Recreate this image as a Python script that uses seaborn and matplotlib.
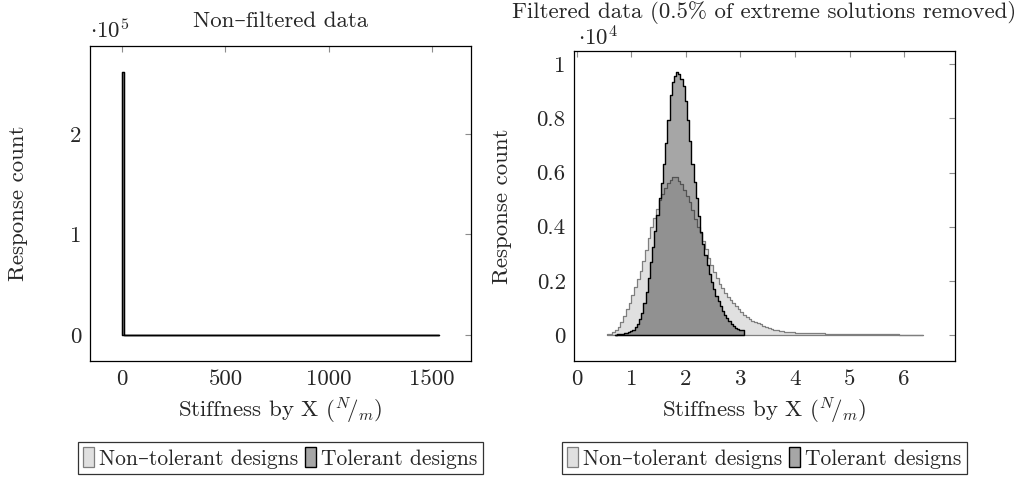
import numpy as np
import pandas as pd
import matplotlib
matplotlib.use("Agg")
import matplotlib.pyplot as plt
import seaborn as sns
from matplotlib.ticker import FuncFormatter, FixedLocator
from matplotlib.patches import Patch

# ---------------- data ----------------
series_names = ["Non–tolerant designs", "Tolerant designs"]

# Non-filtered data (left panel): essentially all responses in the first bin
raw_bin_edges = [0.5, 8.0, 1535.0]
raw_nontol_counts = [261400, 0]
raw_tol_counts = [261400, 0]

# Filtered data (right panel)
filt_nontol_start = 0.55
filt_nontol_width = 0.05
filt_nontol_counts = [
    20, 50, 100, 170, 280, 480, 700, 950, 1200, 1480,
    1760, 2060, 2380, 2740, 3150, 3600, 3980, 4340, 4670, 4970,
    5220, 5430, 5630, 5730, 5830, 5850, 5700, 5560, 5370, 5130,
    4900, 4630, 4300, 4000, 3750, 3480, 3170, 2860, 2600, 2330,
    2100, 1900, 1720, 1540, 1420, 1300, 1170, 1060, 960, 860,
    740, 660, 590, 530, 480, 430, 390, 340, 300, 260,
    220, 190, 170, 150, 130, 120, 110, 100, 95, 90,
    85, 80, 76, 72, 68, 65, 62, 60, 58, 56,
    54, 52, 50, 48, 46, 44, 42, 41, 40, 38,
    37, 36, 34, 33, 32, 30, 29, 28, 27, 26,
    25, 24, 23, 22, 21, 20, 19, 18, 17, 16,
    15, 14, 13, 12, 11, 10,
]
filt_tol_start = 0.70
filt_tol_width = 0.04
filt_tol_counts = [
    10, 20, 30, 45, 60, 80, 110, 140, 190, 280,
    420, 600, 830, 1180, 1600, 2100, 2700, 3250, 3850, 4450,
    5050, 5600, 6300, 7100, 7950, 8850, 9350, 9550, 9700, 9650,
    9450, 9200, 8650, 7950, 7150, 6300, 5650, 5050, 4400, 3800,
    3350, 2950, 2600, 2250, 1950, 1700, 1450, 1250, 1060, 900,
    750, 620, 500, 400, 330, 270, 230, 200, 180,
]

left_xticks = [0, 500, 1000, 1500]
left_yticks = [0, 100000, 200000]
right_xticks = [0, 1, 2, 3, 4, 5, 6]
right_yticks = [0, 2000, 4000, 6000, 8000, 10000]

# ---------------- style ----------------
sns.set_theme(style="white")
plt.rcParams["font.family"] = ["cmr10", "DejaVu Serif"]
plt.rcParams["mathtext.fontset"] = "cm"
plt.rcParams["axes.formatter.use_mathtext"] = True
plt.rcParams["axes.unicode_minus"] = False

FS = 16.5
LEG_FS = 15.5
NT_FACE = (0, 0, 0, 0.12)
NT_EDGE = "#7f7f7f"
T_FACE = (0, 0, 0, 0.35)
T_EDGE = "black"


def make_df(edges, counts):
    edges = np.asarray(edges, dtype=float)
    centers = 0.5 * (edges[:-1] + edges[1:])
    return pd.DataFrame({"x": centers, "count": counts}), [float(v) for v in edges]


def uniform_edges(start, width, n):
    return start + width * np.arange(n + 1)


def hist(ax, df, edges, face, edge, lw):
    sns.histplot(data=df, x="x", weights="count", bins=edges, element="step",
                 fill=True, facecolor=face, edgecolor=edge, linewidth=lw, ax=ax)


fig = plt.figure(figsize=(10.21, 4.78), dpi=100)
W, H = 1021, 478
axL = fig.add_axes([90 / W, 1 - 361 / H, (471 - 90) / W, (361 - 46) / H])
axR = fig.add_axes([574 / W, 1 - 361 / H, (955 - 574) / W, (361 - 51) / H])

# left panel
dfn, e = make_df(raw_bin_edges, raw_nontol_counts)
hist(axL, dfn, e, NT_FACE, NT_EDGE, 0.9)
dft, e = make_df(raw_bin_edges, raw_tol_counts)
hist(axL, dft, e, T_FACE, T_EDGE, 1.0)

# right panel
ne = uniform_edges(filt_nontol_start, filt_nontol_width, len(filt_nontol_counts))
dfn, e = make_df(ne, filt_nontol_counts)
hist(axR, dfn, e, NT_FACE, NT_EDGE, 0.9)
te = uniform_edges(filt_tol_start, filt_tol_width, len(filt_tol_counts))
dft, e = make_df(te, filt_tol_counts)
hist(axR, dft, e, T_FACE, T_EDGE, 1.0)

axL.set_xlim(-156.6, 1690)
axL.set_ylim(-25900, 287600)
axR.set_xlim(-0.05, 6.93)
axR.set_ylim(-960, 10490)

axL.xaxis.set_major_locator(FixedLocator(left_xticks))
axL.yaxis.set_major_locator(FixedLocator(left_yticks))
axR.xaxis.set_major_locator(FixedLocator(right_xticks))
axR.yaxis.set_major_locator(FixedLocator(right_yticks))
axL.yaxis.set_major_formatter(FuncFormatter(lambda v, p: f"{v / 1e5:g}"))
axR.yaxis.set_major_formatter(FuncFormatter(lambda v, p: f"{v / 1e4:g}"))
axL.xaxis.set_major_formatter(FuncFormatter(lambda v, p: f"{v:g}"))
axR.xaxis.set_major_formatter(FuncFormatter(lambda v, p: f"{v:g}"))

xlabel = r"Stiffness by X ($^{N}\!/_{m}$)"
for ax in (axL, axR):
    ax.tick_params(direction="in", length=4, width=0.8, color="#8c8c8c",
                   top=True, right=True, labelsize=FS, pad=6)
    for s in ax.spines.values():
        s.set_color("black")
        s.set_linewidth(0.9)
    ax.set_xlabel(xlabel, fontsize=FS)
    ax.set_ylabel("Response count", fontsize=FS)
    ax.yaxis.set_label_coords(-0.162, 0.5)
    ax.grid(False)

axL.xaxis.set_label_coords(0.5, (361 - 396) / 315)
axR.xaxis.set_label_coords(0.5, (361 - 396) / 310)

axL.set_title("Non–filtered data", fontsize=FS, pad=13.5)
axR.set_title("Filtered data (0.5% of extreme solutions removed)", fontsize=FS, pad=23.5)
axL.text(0.0, 1 + 8 / 315, r"$\cdot 10^{5}$", transform=axL.transAxes, fontsize=FS,
         ha="left", va="baseline")
axR.text(0.01, 1 + 6 / 310, r"$\cdot 10^{4}$", transform=axR.transAxes, fontsize=FS,
         ha="left", va="baseline")

handles = [Patch(facecolor=NT_FACE, edgecolor=NT_EDGE, linewidth=0.9),
           Patch(facecolor=T_FACE, edgecolor=T_EDGE, linewidth=1.0)]
for ax, h in ((axL, 315), (axR, 310)):
    leg = ax.legend(handles, series_names, loc="center",
                    bbox_to_anchor=(0.5, (361 - 458) / h),
                    ncol=2, fontsize=LEG_FS, frameon=True, fancybox=False,
                    handlelength=0.5, handleheight=1.0, handletextpad=0.25,
                    columnspacing=0.3, borderpad=0.25, borderaxespad=0)
    leg.get_frame().set_edgecolor("black")
    leg.get_frame().set_linewidth(0.9)

fig.savefig("out.png", dpi=100)
